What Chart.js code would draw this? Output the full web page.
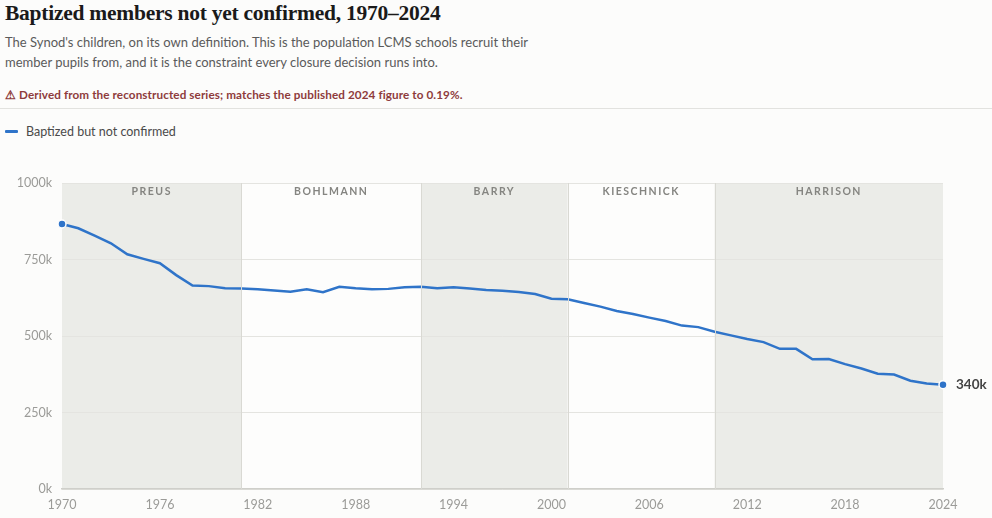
<!DOCTYPE html>
<html lang="en">
<head>
<meta charset="UTF-8">
<title>Baptized members not yet confirmed</title>
<script src="https://cdn.jsdelivr.net/npm/chart.js"></script>
<style>
  html, body { margin: 0; padding: 0; background: #fcfcfb; }
  body { width: 992px; height: 518px; position: relative; overflow: hidden; font-family: Lato, "Noto Sans", sans-serif; }
  h1 { position: absolute; left: 5px; top: 1px; margin: 0; font-family: "Liberation Serif", serif; font-weight: bold; font-size: 21.5px; color: #1a1a1a; letter-spacing: -0.25px; }
  .sub { position: absolute; left: 5px; top: 33px; width: 560px; font-size: 13px; line-height: 19.5px; color: #5a5a5a; }
  .warn { position: absolute; left: 5px; top: 87px; font-size: 11.7px; font-weight: bold; color: #8e3b3b; letter-spacing: 0.1px; }
  .rule { position: absolute; left: 0; top: 108px; width: 992px; height: 1px; background: #e2e2df; }
  .legend { position: absolute; left: 5px; top: 124px; font-size: 12.5px; color: #4a4a4a; }
  .legend i { display: inline-block; width: 13px; height: 3px; background: #2f74c9; border-radius: 1px; vertical-align: middle; margin-right: 8px; position: relative; top: -1px; }
  #wrap { position: absolute; left: 0; top: 150px; width: 992px; height: 368px; }
</style>
</head>
<body>
<h1>Baptized members not yet confirmed, 1970–2024</h1>
<div class="sub">The Synod's children, on its own definition. This is the population LCMS schools recruit their<br>member pupils from, and it is the constraint every closure decision runs into.</div>
<div class="warn">⚠ Derived from the reconstructed series; matches the published 2024 figure to 0.19%.</div>
<div class="rule"></div>
<div class="legend"><i></i>Baptized but not confirmed</div>
<div id="wrap"><canvas id="chart"></canvas></div>

<script>
// 연도별 값 (천 명 단위)
const years = [1970,1971,1972,1973,1974,1975,1976,1977,1978,1979,
               1980,1981,1982,1983,1984,1985,1986,1987,1988,1989,
               1990,1991,1992,1993,1994,1995,1996,1997,1998,1999,
               2000,2001,2002,2003,2004,2005,2006,2007,2008,2009,
               2010,2011,2012,2013,2014,2015,2016,2017,2018,2019,
               2020,2021,2022,2023,2024];
const baptized = [866,852,828,803,767,752,738,699,665,663,
                  656,655,653,649,645,653,643,661,656,653,
                  654,659,661,656,659,655,650,648,644,637,
                  622,620,608,596,582,572,560,549,534,529,
                  514,502,490,480,458,458,424,425,408,394,
                  377,374,354,345,341];

// 회장 재임 구간
const bandNames  = ['PREUS','BOHLMANN','BARRY','KIESCHNICK','HARRISON'];
const bandStarts = [1970, 1981, 1992, 2001, 2010];
const bandEnds   = [1981, 1992, 2001, 2010, 2024];
const bandShaded = [true, false, true, false, true];

const xTicks = [1970,1976,1982,1988,1994,2000,2006,2012,2018,2024];
const yTicks = [0, 250, 500, 750, 1000];
const endLabel = '340k';

const points = years.map((y, i) => ({x: y, y: baptized[i]}));

// 배경 구간 그리기
const bandPlugin = {
  id: 'bands',
  beforeDraw(chart) {
    const {ctx, chartArea, scales} = chart;
    ctx.save();
    for (let i = 0; i < bandNames.length; i++) {
      const x0 = scales.x.getPixelForValue(bandStarts[i]);
      const x1 = scales.x.getPixelForValue(bandEnds[i]);
      ctx.fillStyle = bandShaded[i] ? '#ebece8' : '#fdfdfc';
      ctx.fillRect(x0, chartArea.top, x1 - x0, chartArea.bottom - chartArea.top);
    }
    ctx.restore();
  },
  afterDatasetsDraw(chart) {
    const {ctx, chartArea, scales} = chart;
    ctx.save();
    // 구간 경계선
    ctx.strokeStyle = '#d9d9d3';
    ctx.lineWidth = 1;
    for (let i = 1; i < bandStarts.length; i++) {
      const x = Math.round(scales.x.getPixelForValue(bandStarts[i])) + 0.5;
      ctx.beginPath();
      ctx.moveTo(x, chartArea.top);
      ctx.lineTo(x, chartArea.bottom);
      ctx.stroke();
    }
    // 구간 이름
    ctx.fillStyle = '#858581';
    ctx.font = 'bold 10.5px Lato, sans-serif';
    ctx.textAlign = 'center';
    ctx.textBaseline = 'middle';
    if ('letterSpacing' in ctx) ctx.letterSpacing = '1.5px';
    for (let i = 0; i < bandNames.length; i++) {
      const xm = (scales.x.getPixelForValue(bandStarts[i]) + scales.x.getPixelForValue(bandEnds[i])) / 2;
      ctx.fillText(bandNames[i], xm, chartArea.top + 9);
    }
    if ('letterSpacing' in ctx) ctx.letterSpacing = '0px';
    // 끝 값 라벨
    const last = points[points.length - 1];
    ctx.fillStyle = '#444';
    ctx.font = 'bold 13.5px Lato, sans-serif';
    ctx.textAlign = 'left';
    ctx.fillText(endLabel, scales.x.getPixelForValue(last.x) + 13, scales.y.getPixelForValue(last.y));
    ctx.restore();
  }
};

const n = points.length;
new Chart(document.getElementById('chart'), {
  type: 'line',
  data: {
    datasets: [{
      label: 'Baptized but not confirmed',
      data: points,
      borderColor: '#2f74c9',
      borderWidth: 2.5,
      tension: 0,
      pointRadius: ctx => (ctx.dataIndex === 0 || ctx.dataIndex === n - 1) ? 4 : 0,
      pointBackgroundColor: '#2f74c9',
      pointBorderColor: '#ffffff',
      pointBorderWidth: 1.5,
      clip: false
    }]
  },
  options: {
    responsive: true,
    maintainAspectRatio: false,
    animation: false,
    layout: { padding: { top: 33, right: 49, bottom: 0, left: 0 } },
    plugins: { legend: { display: false }, tooltip: { enabled: false } },
    scales: {
      x: {
        type: 'linear',
        min: 1970, max: 2024,
        afterBuildTicks: s => { s.ticks = xTicks.map(v => ({value: v})); },
        afterFit: s => { s.height = 29; },
        grid: { display: false, drawTicks: false },
        border: { display: true, color: '#cfcfca', width: 1.5 },
        ticks: { color: '#9b9b98', font: { family: 'Lato', size: 12.5 }, padding: 8, callback: v => String(v) }
      },
      y: {
        min: 0, max: 1000,
        afterBuildTicks: s => { s.ticks = yTicks.map(v => ({value: v})); },
        afterFit: s => { s.width = 62; },
        grid: { color: '#e4e4e0', drawTicks: false },
        border: { display: false },
        ticks: { color: '#9b9b98', font: { family: 'Lato', size: 12.5 }, padding: 10, callback: v => v + 'k' }
      }
    }
  },
  plugins: [bandPlugin]
});
</script>
</body>
</html>
